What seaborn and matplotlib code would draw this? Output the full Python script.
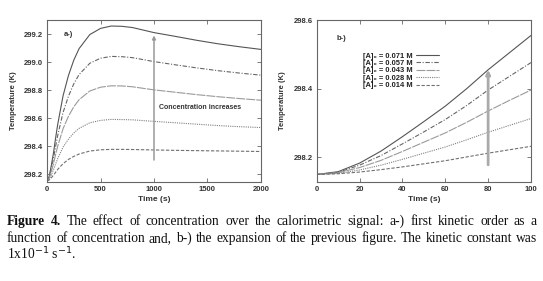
import numpy as np
import pandas as pd
import matplotlib
matplotlib.use("Agg")
import matplotlib.pyplot as plt
import seaborn as sns

# a-) full run
time_a = [0, 20, 40, 60, 80, 100, 150, 200, 250, 300, 400, 500, 600, 700,
          800, 1000, 1200, 1400, 1600, 1800, 2000]
temp_a_071 = [298.150, 298.183, 298.261, 298.349, 298.456, 298.555, 298.759, 298.903,
              299.013, 299.096, 299.196, 299.240, 299.257, 299.255, 299.246, 299.210,
              299.183, 299.155, 299.130, 299.109, 299.090]
temp_a_057 = [298.150, 298.177, 298.239, 298.310, 298.396, 298.476, 298.640, 298.755,
              298.844, 298.911, 298.991, 299.027, 299.040, 299.038, 299.031, 299.003,
              298.980, 298.958, 298.938, 298.921, 298.906]
temp_a_043 = [298.150, 298.170, 298.218, 298.272, 298.338, 298.399, 298.524, 298.612,
              298.680, 298.731, 298.793, 298.820, 298.830, 298.829, 298.823, 298.801,
              298.784, 298.767, 298.752, 298.739, 298.727]
temp_a_028 = [298.150, 298.163, 298.194, 298.229, 298.271, 298.311, 298.392, 298.449,
              298.493, 298.526, 298.566, 298.583, 298.590, 298.589, 298.587, 298.576,
              298.566, 298.556, 298.546, 298.538, 298.532]
temp_a_014 = [298.150, 298.157, 298.173, 298.191, 298.212, 298.233, 298.274, 298.304,
              298.326, 298.343, 298.364, 298.373, 298.376, 298.376, 298.375, 298.372,
              298.369, 298.367, 298.365, 298.363, 298.361]

# b-) first 100 s
time_b = [0, 10, 20, 30, 40, 50, 60, 70, 80, 90, 100]
temp_b_071 = [298.150, 298.158, 298.183, 298.218, 298.260, 298.304, 298.349, 298.400,
              298.455, 298.505, 298.555]
temp_b_057 = [298.150, 298.156, 298.177, 298.205, 298.239, 298.274, 298.310, 298.351,
              298.396, 298.436, 298.476]
temp_b_043 = [298.150, 298.155, 298.170, 298.191, 298.217, 298.244, 298.271, 298.302,
              298.335, 298.366, 298.396]
temp_b_028 = [298.150, 298.153, 298.163, 298.177, 298.194, 298.212, 298.230, 298.251,
              298.273, 298.293, 298.313]
temp_b_014 = [298.150, 298.152, 298.157, 298.164, 298.172, 298.181, 298.190, 298.201,
              298.212, 298.222, 298.232]

labels = ["[A]\u2080 = 0.071 M", "[A]\u2080 = 0.057 M", "[A]\u2080 = 0.043 M",
          "[A]\u2080 = 0.028 M", "[A]\u2080 = 0.014 M"]
xticks_a = [0, 500, 1000, 1500, 2000]
yticks_a = [298.2, 298.4, 298.6, 298.8, 299.0, 299.2]
xticks_b = [0, 20, 40, 60, 80, 100]
yticks_b = [298.2, 298.4, 298.6]

styles = [
    dict(color="#555555", linestyle="-"),
    dict(color="#666666", linestyle=(0, (4, 1.5, 1, 1.5))),
    dict(color="#9a9a9a", linestyle=(0, (8, 1))),
    dict(color="#808080", linestyle=(0, (1, 1))),
    dict(color="#707070", linestyle=(0, (3, 1.5))),
]

sns.set_style("ticks")
plt.rcParams["font.family"] = ["Liberation Sans", "DejaVu Sans"]

fig = plt.figure(figsize=(5.43, 2.81), dpi=100)
ax_a = fig.add_axes([0.0866, 0.3523, 0.394, 0.5765])
ax_b = fig.add_axes([0.5832, 0.3523, 0.3947, 0.5765])


def style_axes(ax):
    for sp in ax.spines.values():
        sp.set_color("#666666")
        sp.set_linewidth(0.8)
    ax.tick_params(direction="in", top=True, right=True, length=3, width=0.6,
                   color="#666666", labelsize=5.5, pad=3)
    for lab in ax.get_xticklabels() + ax.get_yticklabels():
        lab.set_fontweight("bold")
        lab.set_color("#333333")


series_a = [temp_a_071, temp_a_057, temp_a_043, temp_a_028, temp_a_014]
for ys, st in zip(series_a, styles):
    sns.lineplot(x=time_a, y=ys, ax=ax_a, linewidth=0.8, **st)
ax_a.set_xlim(0, 2000)
ax_a.set_ylim(298.143, 299.3)
ax_a.set_xticks(xticks_a)
ax_a.set_yticks(yticks_a)
ax_a.set_xlabel("Time (s)", fontsize=6, fontweight="bold", color="#333333", labelpad=2)
ax_a.set_ylabel("Temperature (K)", fontsize=5.5, fontweight="bold", color="#333333", labelpad=5)
style_axes(ax_a)
ax_a.text(155, 299.2, "a-)", fontsize=5.5, fontweight="bold", color="#333333", va="center")
ax_a.annotate("", xy=(1000, 299.19), xytext=(1000, 298.30),
              arrowprops=dict(arrowstyle="-|>", color="#999999", lw=1.1,
                              mutation_scale=5, shrinkA=0, shrinkB=0))
ax_a.text(1050, 298.676, "Concentration increases", fontsize=5, fontweight="bold",
          color="#333333", va="center")

series_b = [temp_b_071, temp_b_057, temp_b_043, temp_b_028, temp_b_014]
for ys, st, lab in zip(series_b, styles, labels):
    sns.lineplot(x=time_b, y=ys, ax=ax_b, linewidth=0.8, label=lab, **st)
ax_b.set_xlim(0, 100)
ax_b.set_ylim(298.128, 298.6)
ax_b.set_xticks(xticks_b)
ax_b.set_yticks(yticks_b)
ax_b.set_xlabel("Time (s)", fontsize=6, fontweight="bold", color="#333333", labelpad=2)
ax_b.set_ylabel("Temperature (K)", fontsize=5.5, fontweight="bold", color="#333333", labelpad=5)
style_axes(ax_b)
ax_b.text(9.3, 298.546, "b-)", fontsize=5.5, fontweight="bold", color="#333333", va="center")
ax_b.annotate("", xy=(80, 298.455), xytext=(80, 298.178),
              arrowprops=dict(arrowstyle="-|>", color="#aaaaaa", lw=2,
                              mutation_scale=6, shrinkA=0, shrinkB=0))
leg = ax_b.legend(loc="upper left", bbox_to_anchor=(0.215, 0.80), frameon=False,
                  markerfirst=False, fontsize=5.4, handlelength=3.0, handletextpad=0.5,
                  labelspacing=0.02, borderaxespad=0, borderpad=0)
for t in leg.get_texts():
    t.set_fontweight("bold")
    t.set_color("#222222")

# caption, justified like the paper
renderer = fig.canvas.get_renderer()
cap_font = "Liberation Serif"


def text_width(s, size, bold=False):
    t = fig.text(0, 0, s, fontsize=size, family=cap_font,
                 fontweight="bold" if bold else "normal")
    w = t.get_window_extent(renderer).width
    t.remove()
    return w


line1_txt = "The effect of concentration over the calorimetric signal: a-) first kinetic order as a"
line2_txt = "function of concentration and, b-) the expansion of the previous figure. The kinetic constant was"
# pick the size so line 2 fills the column with about normal spacing
natural = text_width(line2_txt, 10)
cap_size = 10 * 522 / natural


def place_line(words, y_px, x0=7, x1=537):
    objs = []
    for w, bold in words:
        t = fig.text(0, 1 - y_px / 281, w, fontsize=cap_size, family=cap_font,
                     fontweight="bold" if bold else "normal", va="baseline", color="#111111")
        objs.append(t)
    widths = [o.get_window_extent(renderer).width for o in objs]
    gap = (x1 - x0 - sum(widths)) / (len(objs) - 1)
    x = x0
    for o, w in zip(objs, widths):
        o.set_x(x / 543)
        x += w + gap


line1 = [("Figure", True), ("4.", True)] + [(w, False) for w in line1_txt.split()]
line2 = [(w, False) for w in line2_txt.split()]
place_line(line1, 225)
place_line(line2, 242)
fig.text(7 / 543, 1 - 259 / 281, "1x10$^{-1}$ s$^{-1}$.", fontsize=cap_size, family=cap_font,
         va="baseline", color="#111111")

fig.savefig("out.png", dpi=100)
